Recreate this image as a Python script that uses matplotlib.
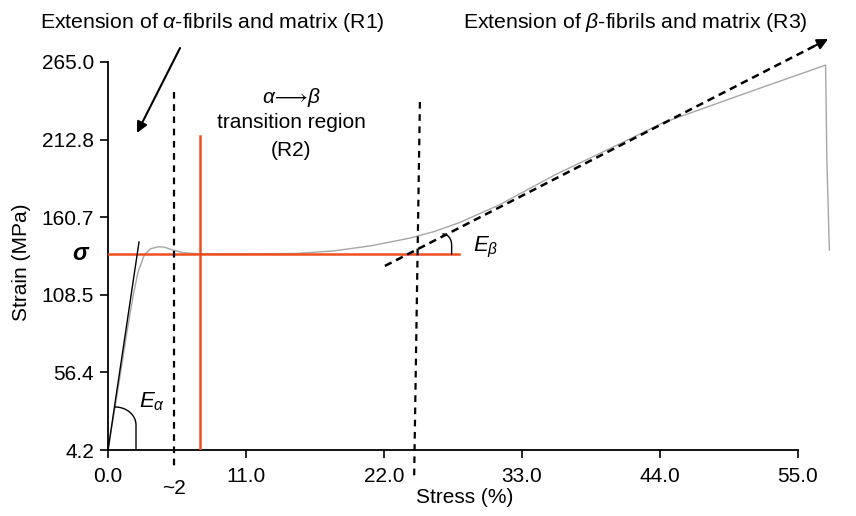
import numpy as np
import matplotlib
matplotlib.use("Agg")
from matplotlib import pyplot as plt
from matplotlib.transforms import blended_transform_factory

plt.rcParams['font.family'] = ['Liberation Sans', 'DejaVu Sans']
plt.rcParams['mathtext.fontset'] = 'custom'
plt.rcParams['mathtext.rm'] = 'Liberation Sans'
plt.rcParams['mathtext.it'] = 'Liberation Sans:italic'

# stress-strain curve
stress = [0.0, 0.5, 1.0, 1.5, 2.0, 2.4, 2.9, 3.4, 4.0, 4.5, 5.2, 6.0, 7.0, 10.0, 15.0,
          18.0, 21.0, 24.0, 26.0, 28.0, 31.2, 35.6, 40.8, 44.2, 50.5, 57.2, 57.3, 57.5]
strain = [4.2, 30.0, 56.0, 83.0, 108.0, 124.0, 135.5, 139.5, 140.8, 140.5, 138.5, 136.8,
          136.2, 136.0, 136.3, 138.0, 141.5, 146.5, 151.0, 157.0, 169.0, 189.0, 210.0,
          224.0, 243.0, 262.9, 200.0, 138.6]

xticks = [0.0, 11.0, 22.0, 33.0, 44.0, 55.0]
yticks = [4.2, 56.4, 108.5, 160.7, 212.8, 265.0]

sigma = 136.0
sigma_end = 28.0
transition_x = 7.33
transition_top = 215.2

# tangent for E_alpha
tan_a_x = [0.0, 2.47]
tan_a_y = [4.2, 144.0]
# tangent for E_beta (dashed arrow)
tan_b_x = [22.07, 57.4]
tan_b_y = [127.9, 280.4]

# region boundaries (dashed verticals)
b1_x = [5.26, 5.26]
b1_y = [244.8, -9.2]
b2_x = [24.86, 24.4]
b2_y = [238.1, -14.6]

orange = '#f04e1f'
fs = 15

fig = plt.figure(figsize=(8.56, 5.16), dpi=100)
ax = fig.add_axes([0.1262, 0.1279, 0.85, 0.8097])
ax.set_xlim(0, 58)
ax.set_ylim(4.2, 285)

ax.plot(stress, strain, color='#a6a6a6', lw=1.0, clip_on=False, zorder=2)
ax.plot([0, sigma_end], [sigma, sigma], color=orange, lw=1.8, zorder=3)
ax.plot([transition_x, transition_x], [4.2, transition_top], color=orange, lw=1.8, zorder=3)
ax.plot(tan_a_x, tan_a_y, color='black', lw=1.0, zorder=4)

ax.plot(b1_x, b1_y, color='black', lw=1.6, ls=(0, (3, 2.5)), clip_on=False, zorder=4)
ax.plot(b2_x, b2_y, color='black', lw=1.6, ls=(0, (3, 2.5)), clip_on=False, zorder=4)

# dashed E_beta tangent with solid head
f = 0.97
hx = tan_b_x[0] + f * (tan_b_x[1] - tan_b_x[0])
hy = tan_b_y[0] + f * (tan_b_y[1] - tan_b_y[0])
ax.plot([tan_b_x[0], hx], [tan_b_y[0], hy], color='black', lw=1.8, ls=(0, (3, 2)),
        clip_on=False, zorder=5)
ax.annotate('', xy=(tan_b_x[1], tan_b_y[1]), xytext=(hx, hy),
            arrowprops=dict(arrowstyle='-|>', color='black', lw=1.5, mutation_scale=16,
                            shrinkA=0, shrinkB=0), annotation_clip=False)

# arrow pointing to R1
ax.annotate('', xy=(2.31, 217.3), xytext=(5.74, 274.4),
            arrowprops=dict(arrowstyle='-|>', color='black', lw=1.5, mutation_scale=16,
                            shrinkA=0, shrinkB=0), annotation_clip=False)

# angle arcs
t = np.linspace(np.pi / 2, 0, 30)
arc_x = list(0.56 + 1.67 * np.cos(t)) + [2.23]
arc_y = list(21.0 + 12.1 * np.sin(t)) + [4.2]
ax.plot(arc_x, arc_y, color='black', lw=1.0, zorder=4)
arc_x = list(26.7 + 0.69 * np.cos(t)) + [26.7 + 0.69]
arc_y = list(142.0 + 7.4 * np.sin(t)) + [sigma]
ax.plot(arc_x, arc_y, color='black', lw=1.0, zorder=4)

ax.text(2.47, 37.0, r'$E_\alpha$', fontsize=fs + 1, ha='left', va='center')
ax.text(29.1, 140.0, r'$E_\beta$', fontsize=fs + 1, ha='left', va='center')

ax.text(14.6, 241.4, r'$\alpha\!\longrightarrow\!\beta$', fontsize=fs, ha='center', va='center')
ax.text(14.6, 224.0, 'transition region', fontsize=fs, ha='center', va='center')
ax.text(14.6, 205.8, '(R2)', fontsize=fs, ha='center', va='center')

ax.text(5.26, -22.0, '~2', fontsize=fs, ha='center', va='center')

tr = blended_transform_factory(ax.transAxes, ax.transData)
ax.text(-0.028, sigma, 'σ', transform=tr, fontsize=fs + 2, fontweight='bold',
        fontstyle='italic', ha='right', va='center')

fig.text(40 / 856, 1 - 22 / 516, r'Extension of $\alpha$-fibrils and matrix (R1)',
         fontsize=15.3, ha='left', va='center')
fig.text(463 / 856, 1 - 22 / 516, r'Extension of $\beta$-fibrils and matrix (R3)',
         fontsize=15.3, ha='left', va='center')

for s in ['top', 'right']:
    ax.spines[s].set_visible(False)
ax.spines['left'].set_bounds(4.2, 265.0)
ax.spines['bottom'].set_bounds(0, 55)
for s in ['left', 'bottom']:
    ax.spines[s].set_linewidth(1.3)

ax.set_xticks(xticks)
ax.set_xticklabels(['%.1f' % v for v in xticks])
ax.set_yticks(yticks)
ax.set_yticklabels(['%.1f' % v for v in yticks])
ax.tick_params(direction='out', length=6, width=1.2, labelsize=fs, pad=4)
ax.tick_params(axis='x', pad=6)

ax.set_xlabel('Stress (%)', fontsize=fs)
ax.xaxis.set_label_coords(0.4907, -0.1125)
ax.xaxis.label.set_va('center')
ax.set_ylabel('Strain (MPa)', fontsize=fs)
ax.yaxis.set_label_coords(-0.1196, 0.45)
ax.yaxis.label.set_va('center')

fig.savefig('out.png', dpi=100)
